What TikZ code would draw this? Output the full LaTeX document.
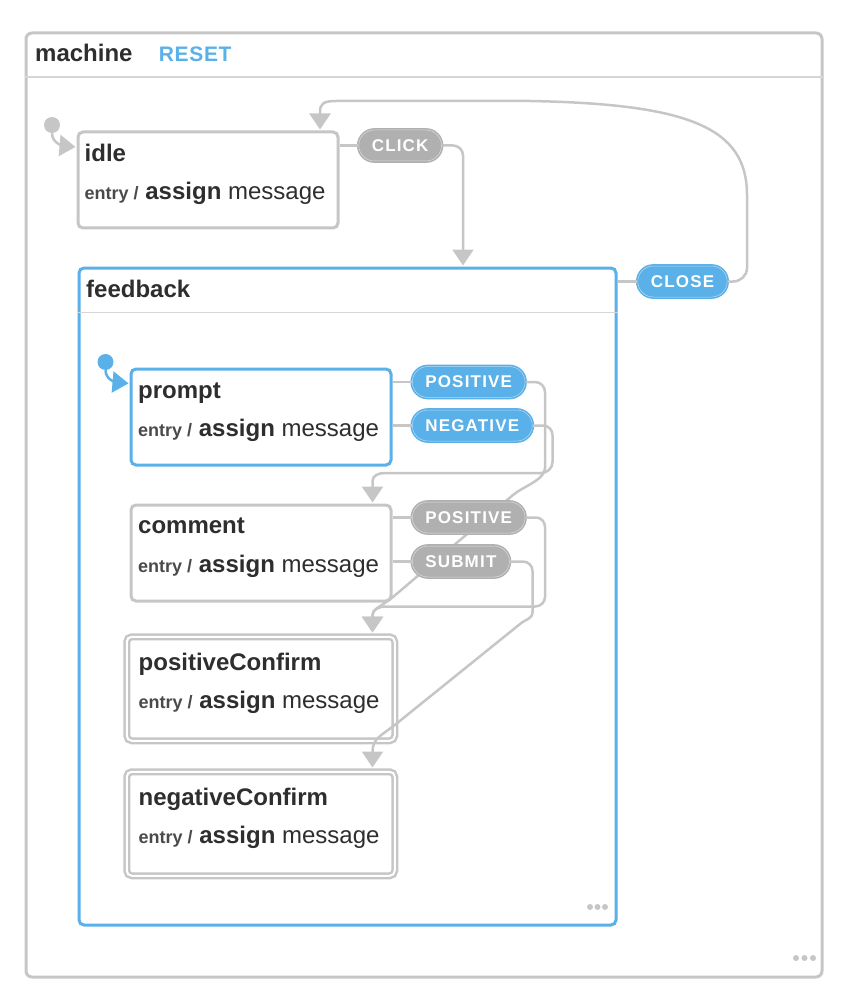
\documentclass[tikz,border=0pt]{standalone}
\usepackage{fontspec}
\setmainfont{Liberation Sans}
\usetikzlibrary{positioning, arrows.meta}

\definecolor{linegray}{HTML}{C6C6C6}
\definecolor{sepgray}{HTML}{D6D6D6}
\definecolor{pillgray}{HTML}{B0B0B0}
\definecolor{xblue}{HTML}{5AB0E8}
\definecolor{ink}{HTML}{2E2E2E}
\definecolor{entryink}{HTML}{4A4A4A}

\newcommand{\entryline}{{\fontsize{18}{20}\selectfont\bfseries\color{entryink}entry /} {\bfseries assign} message}

\tikzset{
  statebox/.style={draw=linegray, line width=3pt, rounded corners=5pt, fill=white,
    minimum width=260pt, minimum height=96pt, anchor=north west, inner sep=0pt},
  activebox/.style={statebox, draw=xblue},
  finalbox/.style={statebox, line width=2.5pt, double=white, double distance=2pt,
    minimum width=268pt, minimum height=104pt},
  title/.style={font=\fontsize{24}{26}\selectfont\bfseries, text=ink, inner sep=0pt, anchor=base west},
  action/.style={font=\fontsize{24}{26}\selectfont, text=ink, inner sep=0pt, anchor=base west},
  pill/.style={fill=pillgray, draw=pillgray, line width=1.6pt, double=white!55!pillgray,
    double distance=0.5pt, rounded corners=15.5pt, minimum height=31pt, inner xsep=13pt,
    inner ysep=0pt, text=white, font=\fontsize{17}{20}\selectfont\bfseries\addfontfeature{LetterSpace=7}},
  bluepill/.style={pill, fill=xblue, draw=xblue, double=white!55!xblue},
  initdot/.style={circle, fill=linegray, minimum size=16pt, inner sep=0pt},
  trans/.style={draw=linegray, line width=2.5pt, -{Triangle[width=21pt,length=16pt]}, shorten >=1pt},
  stub/.style={draw=linegray, line width=2.5pt},
  sep/.style={draw=sepgray, line width=1.5pt},
}

\begin{document}
\begin{tikzpicture}[x=1pt, y=1pt]
  \useasboundingbox (0,0) rectangle (842,-1000);

  % machine
  \node[statebox, fill=none, rounded corners=6pt, minimum width=796pt, minimum height=944pt] (machine) at (24.5,-31.5) {};
  \draw[sep] (machine.west |- 0,-77) -- (machine.east |- 0,-77);
  \node[title] (machinelbl) at (35,-62) {machine};
  \node[title, right=26pt of machinelbl.base east, anchor=base west, text=xblue,
    font=\fontsize{21}{24}\selectfont\bfseries\addfontfeature{LetterSpace=3}] (reset) {RESET};

  % idle
  \node[initdot] (idleinit) at (52,-125) {};
  \node[statebox] (idle) at (76.5,-130.5) {};
  \node[title] (idlename) at ([shift={(8pt,-31.5pt)}]idle.north west) {idle};
  \node[action] (idleentry) at ([shift={(8pt,-69.5pt)}]idle.north west) {\entryline};
  \draw[trans] (idleinit) to[out=-90, in=175] ([yshift=-16.5pt]idle.north west);
  \node[pill, right=18.5pt of idle.north east, yshift=-15pt] (click) {CLICK};
  \draw[stub] (idle.east |- click) -- (click);

  % feedback
  \node[activebox, fill=none, minimum width=537pt, minimum height=657pt] (feedback) at (77.5,-266.5) {};
  \draw[sep] (feedback.west |- 0,-312.5) -- (feedback.east |- 0,-312.5);
  \node[title] (feedbacklbl) at ([shift={(8.5pt,-30.5pt)}]feedback.north west) {feedback};
  \draw[trans, rounded corners=10pt] (click) -| ([xshift=385.5pt]feedback.north west);
  \node[bluepill, right=19.5pt of feedback.north east, yshift=-15pt] (close) {CLOSE};
  \draw[stub] (feedback.east |- close) -- (close);
  \draw[trans] (close) -- (733,-281.5) to[out=0, in=-90] (747,-268) -- (747,-195)
    .. controls (747,-128) and (690,-104) .. (530,-101) -- (336,-101)
    .. controls (323,-101) and (320,-104) .. (320,-112) -- ([xshift=243.5pt]idle.north west);

  % prompt
  \node[initdot, fill=xblue] (promptinit) at (105.5,-362) {};
  \node[activebox] (prompt) at (129.5,-367.5) {};
  \node[title] (promptname) at ([shift={(8.5pt,-31pt)}]prompt.north west) {prompt};
  \node[action] (promptentry) at ([shift={(8.5pt,-69pt)}]prompt.north west) {\entryline};
  \draw[trans, draw=xblue] (promptinit) to[out=-90, in=175] ([yshift=-16pt]prompt.north west);
  \node[bluepill, right=19pt of prompt.north east, yshift=-14.5pt] (ppos) {POSITIVE};
  \node[bluepill, right=19pt of prompt.north east, yshift=-58pt] (pneg) {NEGATIVE};
  \draw[stub] (prompt.east |- ppos) -- (ppos);
  \draw[stub] (prompt.east |- pneg) -- (pneg);

  % comment
  \node[statebox] (comment) at (129.5,-503.5) {};
  \node[title] (commentname) at ([shift={(8.5pt,-30pt)}]comment.north west) {comment};
  \node[action] (commententry) at ([shift={(8.5pt,-69pt)}]comment.north west) {\entryline};

  % final states
  \node[finalbox] (pconf) at (125.5,-635.5) {};
  \node[title] (pconfname) at ([shift={(13pt,-34.5pt)}]pconf.north west) {positiveConfirm};
  \node[action] (pconfentry) at ([shift={(13pt,-72.5pt)}]pconf.north west) {\entryline};
  \node[finalbox] (nconf) at (125.5,-770.5) {};
  \node[title] (nconfname) at ([shift={(13pt,-34.5pt)}]nconf.north west) {negativeConfirm};
  \node[action] (nconfentry) at ([shift={(13pt,-72.5pt)}]nconf.north west) {\entryline};

  % prompt transitions (under the comment pills)
  \draw[trans, shorten >=3pt] (ppos) -- (535,-382) to[out=0, in=90] (545,-392) -- (545,-468)
    .. controls (545,-480) and (522,-487) .. (513,-495) -- (393,-597)
    .. controls (378,-609) and (372.5,-608) .. ([xshift=247pt]pconf.north west);
  \draw[trans] (pneg) -- (543,-425.5) to[out=0, in=90] (552.5,-435) -- (552.5,-462)
    to[out=-90, in=0] (541,-473) -- (385,-473) to[out=180, in=90] (372.5,-481)
    -- ([xshift=243pt]comment.north west);

  % comment transitions
  \node[pill, right=19pt of comment.north east, yshift=-14pt] (cpos) {POSITIVE};
  \node[pill, right=19pt of comment.north east, yshift=-58pt] (submit) {SUBMIT};
  \draw[stub] (comment.east |- cpos) -- (cpos);
  \draw[stub] (comment.east |- submit) -- (submit);
  \draw[trans, shorten >=3pt] (cpos) -- (536,-517.5) to[out=0, in=90] (545,-527) -- (545,-597)
    to[out=-90, in=0] (535,-606.5) -- (386,-606.5) to[out=180, in=90] (372.5,-615)
    -- ([xshift=247pt]pconf.north west);
  \draw[trans, shorten >=3pt] (submit) -- (523,-561.5) to[out=0, in=90] (532.5,-571) -- (532.5,-612)
    .. controls (532.5,-619) and (526,-619) .. (520,-624) -- (396,-724)
    .. controls (381,-736) and (372.5,-738) .. ([xshift=247pt]nconf.north west);

  % more dots
  \foreach \dx in {0,7.5,15} \fill[linegray] (590+\dx,-907) circle (3pt);
  \foreach \dx in {0,8.5,17} \fill[linegray] (796+\dx,-958) circle (3pt);
\end{tikzpicture}
\end{document}
